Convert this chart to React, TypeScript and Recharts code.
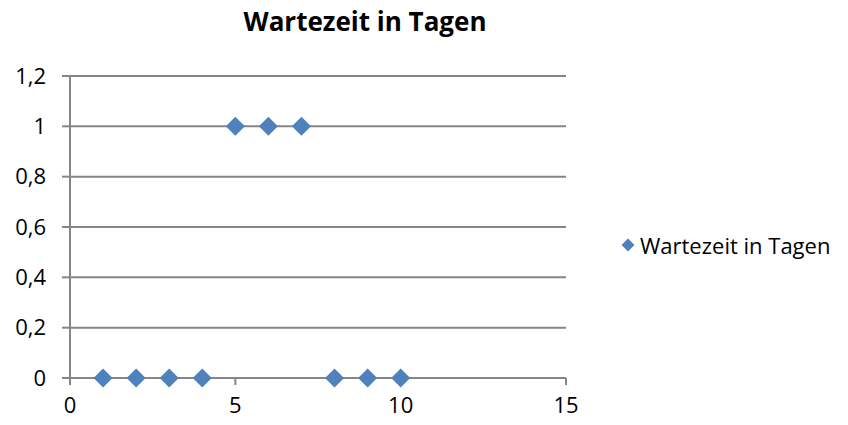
import { ScatterChart, Scatter, XAxis, YAxis, CartesianGrid, Legend } from 'recharts';

const seriesName = 'Wartezeit in Tagen';
const xValues = [1, 2, 3, 4, 5, 6, 7, 8, 9, 10];
const yValues = [0, 0, 0, 0, 1, 1, 1, 0, 0, 0];
const xTicks = [0, 5, 10, 15];
const yTicks = [0, 0.2, 0.4, 0.6, 0.8, 1, 1.2];

const data = xValues.map((x, i) => ({ x, y: yValues[i] }));

const blue = '#4F81BD';
const grid = '#868686';
const font = '"Open Sans", Lato, sans-serif';

function Diamond(props: any) {
  const { cx, cy } = props;
  const r = 9.5;
  return (
    <polygon
      points={`${cx},${cy - r} ${cx + r},${cy} ${cx},${cy + r} ${cx - r},${cy}`}
      fill={blue}
    />
  );
}

function LegendBox() {
  return (
    <div style={{ display: 'flex', alignItems: 'center', fontFamily: font, fontSize: 22, color: '#000', whiteSpace: 'nowrap' }}>
      <svg width={14} height={14} style={{ marginRight: 5 }}>
        <polygon points="7,0.5 13.5,7 7,13.5 0.5,7" fill={blue} />
      </svg>
      <span>{seriesName}</span>
    </div>
  );
}

export default function App() {
  return (
    <div style={{ position: 'absolute', left: 0, top: 0, width: 848, height: 425, background: '#fff' }}>
      <div
        style={{
          position: 'absolute',
          left: 0,
          width: 730,
          top: 3,
          textAlign: 'center',
          fontFamily: font,
          fontWeight: 'bold',
          fontSize: 26,
          color: '#000',
        }}
      >
        {seriesName}
      </div>
      <ScatterChart width={848} height={425} margin={{ top: 76, right: 282, bottom: 7, left: 10 }}>
        <CartesianGrid vertical={false} stroke={grid} strokeWidth={2} />
        <XAxis
          type="number"
          dataKey="x"
          domain={[0, 15]}
          ticks={xTicks}
          height={40}
          stroke={grid}
          strokeWidth={2}
          tickSize={7}
          tickMargin={12}
          tick={{ fill: '#000', fontSize: 22, fontFamily: font }}
        />
        <YAxis
          type="number"
          dataKey="y"
          domain={[0, 1.2]}
          ticks={yTicks}
          width={60}
          stroke={grid}
          strokeWidth={2}
          tickSize={8}
          tickMargin={16}
          tickFormatter={(v: number) => String(v).replace('.', ',')}
          tick={{ fill: '#000', fontSize: 22, fontFamily: font }}
        />
        <Legend
          layout="vertical"
          verticalAlign="middle"
          align="center"
          wrapperStyle={{ left: 621, top: 230, width: 225 }}
          content={() => <LegendBox />}
        />
        <Scatter name={seriesName} data={data} fill={blue} shape={<Diamond />} isAnimationActive={false} />
      </ScatterChart>
    </div>
  );
}
